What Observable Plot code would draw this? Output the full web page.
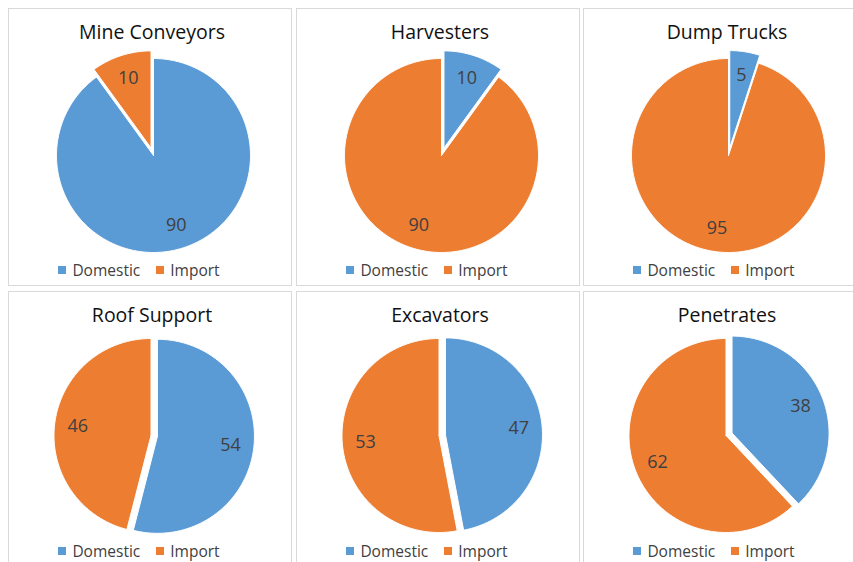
<!DOCTYPE html>
<html><head><meta charset="utf-8">
<script src="https://cdn.jsdelivr.net/npm/d3@7"></script>
<script src="https://cdn.jsdelivr.net/npm/@observablehq/plot@0.6"></script>
<style>
html,body{margin:0;padding:0;background:#fff;overflow:hidden;}
body{width:853px;height:562px;position:relative;font-family:"Open Sans",sans-serif;}
.panel{position:absolute;width:284px;height:278px;border:1px solid #d9d9d9;box-sizing:border-box;background:#fff;}
.title{height:40px;box-sizing:border-box;padding-top:12px;text-align:center;font-size:19.5px;line-height:22px;color:#111;padding-left:4px;}
.legend{height:22px;display:flex;justify-content:center;align-items:center;font-size:15.5px;color:#404040;padding-right:22px;}
.legend .sw{display:inline-block;width:8px;height:8px;margin-right:6px;}
.legend .item{display:flex;align-items:center;margin:0 8px;}
</style>
</head><body>
<script>
// ---- data ----
const titles = ["Mine Conveyors", "Harvesters", "Dump Trucks", "Roof Support", "Excavators", "Penetrates"];
const categories = ["Domestic", "Import"];
const domesticValues = [90, 10, 5, 54, 47, 38];
const importValues = [10, 90, 95, 46, 53, 62];
const explodedSlice = ["Import", "Domestic", "Domestic", "Domestic", "Domestic", "Domestic"];

// ---- style / layout ----
const colors = {Domestic: "#5B9BD5", Import: "#ED7D31"};
const panelLefts = [8, 296, 583];
const panelTops = [8, 291];
const rowSvgH = [210, 208];
const rowCy = [106, 103];
const rowCx = [144, 141.5];
const rowExplode = [8, 6.5];
const R = 97;           // pie radius (px)
const svgW = 282;

function slicesFor(i, explode) {
  const vals = [domesticValues[i], importValues[i]];
  const total = d3.sum(vals);
  let acc = 0;
  return categories.map((cat, k) => {
    const a0 = acc / total * 2 * Math.PI;
    acc += vals[k];
    const a1 = acc / total * 2 * Math.PI;
    const mid = (a0 + a1) / 2;
    const off = cat === explodedSlice[i] ? explode : 0;
    const ox = off * Math.sin(mid), oy = off * Math.cos(mid);
    const pts = [{x: ox, y: oy}];
    const n = Math.max(2, Math.ceil((a1 - a0) / (Math.PI / 180)));
    for (let j = 0; j <= n; j++) {
      const a = a0 + (a1 - a0) * j / n;
      pts.push({x: ox + R * Math.sin(a), y: oy + R * Math.cos(a)});
    }
    pts.push({x: ox, y: oy});
    const lr = R * 0.76;
    return {cat, value: vals[k], pts, label: {x: ox + lr * Math.sin(mid), y: oy + lr * Math.cos(mid), text: String(vals[k])}};
  });
}

titles.forEach((t, i) => {
  const row = Math.floor(i / 3);
  const svgH = rowSvgH[row], cyPx = rowCy[row], cxPx = rowCx[row];
  const panel = document.createElement("div");
  panel.className = "panel";
  panel.style.left = panelLefts[i % 3] + "px";
  panel.style.top = panelTops[row] + "px";
  const title = document.createElement("div");
  title.className = "title";
  title.textContent = t;
  panel.appendChild(title);

  const slices = slicesFor(i, rowExplode[row]);
  const marks = slices.map(s => Plot.line(s.pts, {x: "x", y: "y", fill: colors[s.cat], stroke: "white", strokeWidth: 1, curve: "linear"}));
  marks.push(Plot.text(slices.map(s => s.label), {x: "x", y: "y", text: "text", fontSize: 18, fill: "#404040"}));
  const svg = Plot.plot({
    width: svgW, height: svgH,
    margin: 0,
    x: {domain: [-cxPx, svgW - cxPx], axis: null},
    y: {domain: [-(svgH - cyPx), cyPx], axis: null},
    style: {overflow: "visible", background: "transparent", fontFamily: "Open Sans, sans-serif"},
    marks
  });
  panel.appendChild(svg);

  const legend = document.createElement("div");
  legend.className = "legend";
  categories.forEach(c => {
    const it = document.createElement("span");
    it.className = "item";
    const sw = document.createElement("span");
    sw.className = "sw";
    sw.style.background = colors[c];
    it.appendChild(sw);
    it.appendChild(document.createTextNode(c));
    legend.appendChild(it);
  });
  panel.appendChild(legend);
  document.body.appendChild(panel);
});
</script>
</body></html>
